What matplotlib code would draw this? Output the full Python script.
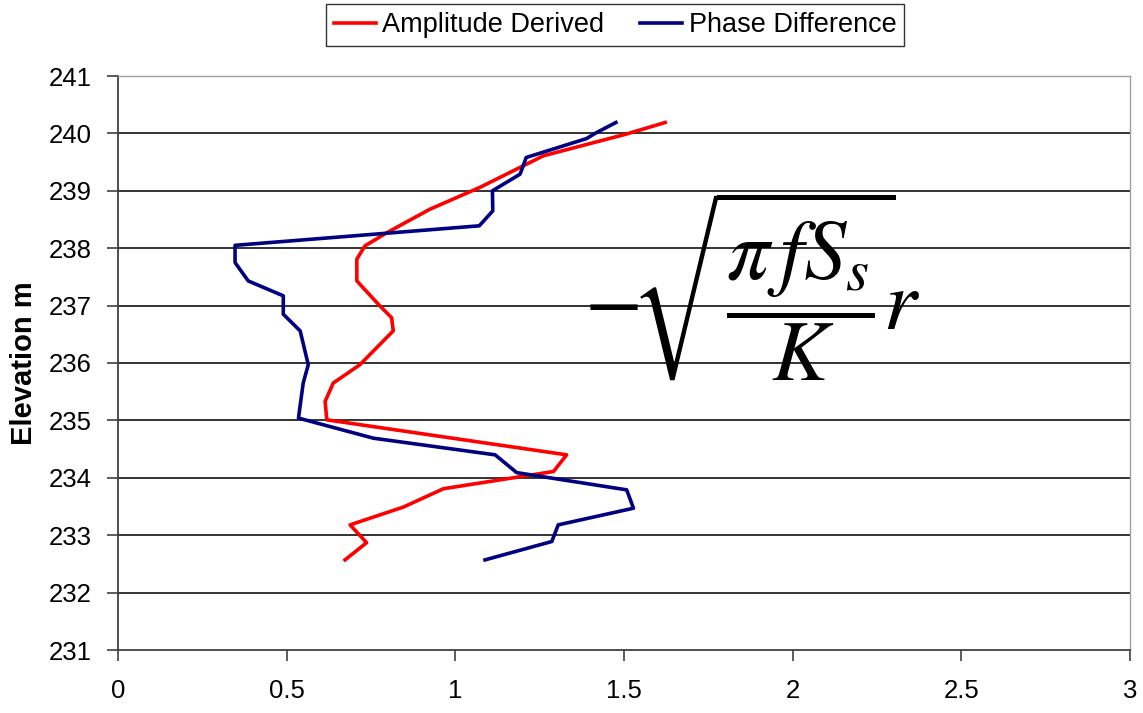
import matplotlib
matplotlib.use("Agg")
import matplotlib.pyplot as plt

plt.rcParams['font.family'] = ['Liberation Sans', 'DejaVu Sans']
plt.rcParams['mathtext.fontset'] = 'stix'

# Amplitude Derived (x value, elevation m)
amp_x = [0.673, 0.737, 0.688, 0.846, 0.965, 1.291, 1.330, 0.619, 0.614, 0.638,
         0.717, 0.816, 0.811, 0.777, 0.708, 0.708, 0.732, 0.797, 0.925, 1.073,
         1.261, 1.508, 1.622]
amp_y = [232.57, 232.87, 233.18, 233.49, 233.81, 234.11, 234.40, 235.01, 235.33, 235.65,
         235.97, 236.56, 236.79, 236.99, 237.43, 237.81, 238.04, 238.27, 238.68, 239.06,
         239.61, 239.99, 240.19]

# Phase Difference
ph_x = [1.088, 1.286, 1.305, 1.528, 1.508, 1.182, 1.118, 0.757, 0.535, 0.549,
        0.564, 0.540, 0.490, 0.490, 0.386, 0.347, 0.347, 1.071, 1.111, 1.110,
        1.192, 1.210, 1.389, 1.414, 1.476]
ph_y = [232.57, 232.89, 233.18, 233.47, 233.79, 234.09, 234.40, 234.69, 235.04, 235.65,
        235.97, 236.56, 236.85, 237.17, 237.43, 237.75, 238.05, 238.39, 238.65, 239.00,
        239.29, 239.58, 239.91, 240.00, 240.19]

x_ticks = [0, 0.5, 1, 1.5, 2, 2.5, 3]
x_labels = ['0', '0.5', '1', '1.5', '2', '2.5', '3']
y_ticks = list(range(231, 242))

fig = plt.figure(figsize=(11.43, 7.13), dpi=100)
ax = fig.add_axes([118/1143, 1-650/713, (1130-118)/1143, (650-76)/713])

for yv in y_ticks[1:-1]:
    ax.axhline(yv, color='#101010', lw=1.2, zorder=1)

l1, = ax.plot(amp_x, amp_y, color='#FF0000', lw=2.6, label='Amplitude Derived', zorder=3)
l2, = ax.plot(ph_x, ph_y, color='#000080', lw=2.6, label='Phase Difference', zorder=3)

ax.set_xlim(0, 3)
ax.set_ylim(231, 241)
ax.set_xticks(x_ticks)
ax.set_xticklabels(x_labels)
ax.set_yticks(y_ticks)

for s in ['top', 'right']:
    ax.spines[s].set_color('#A0A0A0')
    ax.spines[s].set_linewidth(1.0)
for s in ['left', 'bottom']:
    ax.spines[s].set_color('#404040')
    ax.spines[s].set_linewidth(1.3)

ax.tick_params(axis='both', direction='out', length=8, width=1.2, color='#404040',
               labelsize=18.5, labelcolor='#000000')
ax.tick_params(axis='x', pad=13)
ax.tick_params(axis='y', pad=11)
ax.set_ylabel('Elevation m', fontsize=21, fontweight='bold')
ax.yaxis.set_label_coords(-0.079, 0.5)

ax.text(1.88, 237.35, r'$-\!\sqrt{\dfrac{\pi\,f S_s}{K}}\!r$', fontsize=61,
        ha='center', va='center', zorder=4)

leg = fig.legend(handles=[l1, l2], loc='center', bbox_to_anchor=(615/1143, 1-25/713),
                 ncol=2, fontsize=19.5, frameon=True, fancybox=False, handlelength=1.55,
                 handletextpad=0.25, columnspacing=1.3, borderpad=0.3)
leg.get_frame().set_edgecolor('#000000')
leg.get_frame().set_linewidth(1.0)

fig.savefig('out.png', dpi=100)
